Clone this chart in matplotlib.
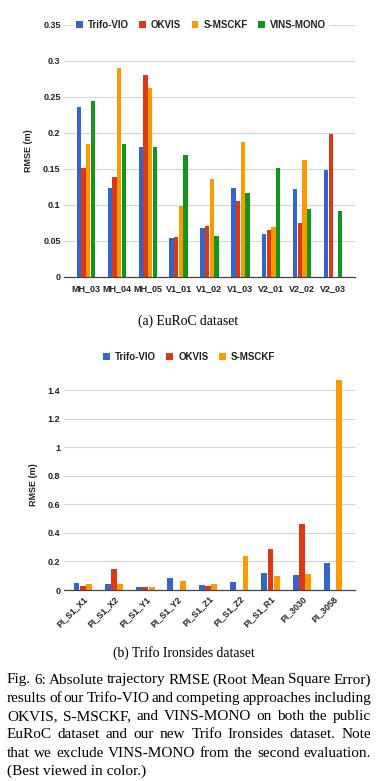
import numpy as np
import matplotlib
matplotlib.use("Agg")
import matplotlib.pyplot as plt
from matplotlib.patches import Patch
from matplotlib.ticker import FuncFormatter

# EuRoC results (RMSE in m)
euroc_seqs = ["MH_03", "MH_04", "MH_05", "V1_01", "V1_02", "V1_03", "V2_01", "V2_02", "V2_03"]
euroc_trifo = [0.236, 0.124, 0.180, 0.054, 0.068, 0.124, 0.060, 0.122, 0.149]
euroc_okvis = [0.151, 0.139, 0.280, 0.056, 0.071, 0.105, 0.065, 0.075, 0.198]
euroc_msckf = [0.185, 0.290, 0.263, 0.099, 0.136, 0.187, 0.069, 0.162, np.nan]
euroc_vins = [0.244, 0.185, 0.181, 0.170, 0.057, 0.116, 0.151, 0.095, 0.091]

# Trifo Ironsides results (RMSE in m)
iron_seqs = ["PI_S1_X1", "PI_S1_X2", "PI_S1_Y1", "PI_S1_Y2", "PI_S1_Z1",
             "PI_S1_Z2", "PI_S1_R1", "PI_3030", "PI_3058"]
iron_trifo = [0.047, 0.042, 0.023, 0.084, 0.035, 0.056, 0.117, 0.107, 0.191]
iron_okvis = [0.028, 0.147, 0.019, np.nan, 0.028, np.nan, 0.285, 0.462, np.nan]
iron_msckf = [0.042, 0.042, 0.023, 0.063, 0.040, 0.238, 0.098, 0.110, 1.475]

method_names = ["Trifo-VIO", "OKVIS", "S-MSCKF", "VINS-MONO"]
colors = ["#3366cc", "#dc3912", "#ff9900", "#109618"]

caption_lines = [
    "Fig. 6: Absolute trajectory RMSE (Root Mean Square Error)",
    "results of our Trifo-VIO and competing approaches including",
    "OKVIS, S-MSCKF, and VINS-MONO on both the public",
    "EuRoC dataset and our new Trifo Ironsides dataset. Note",
    "that we exclude VINS-MONO from the second evaluation.",
    "(Best viewed in color.)",
]

W, H = 383, 781
fig = plt.figure(figsize=(W / 100, H / 100), dpi=100)
sans = ["Liberation Sans", "DejaVu Sans"]
serif = ["Liberation Serif", "DejaVu Serif"]
tick_col = "#222222"


def px_box(left, top, right, bottom):
    return [left / W, 1 - bottom / H, (right - left) / W, (bottom - top) / H]


def style_axes(ax, ymax, yticks, fmt):
    ax.set_ylim(0, ymax)
    ax.set_yticks(yticks)
    ax.yaxis.set_major_formatter(fmt)
    for s in ["top", "right", "left"]:
        ax.spines[s].set_visible(False)
    ax.spines["bottom"].set_color("#444444")
    ax.spines["bottom"].set_linewidth(0.9)
    ax.grid(axis="y", color="#d6d6d6", linewidth=0.8)
    ax.set_axisbelow(True)
    ax.tick_params(axis="both", length=0, labelsize=6.5, colors=tick_col, pad=2.5)
    for lab in ax.get_yticklabels() + ax.get_xticklabels():
        lab.set_fontfamily(sans)
        lab.set_fontweight("bold")
    ax.set_ylabel("RMSE (m)", fontsize=6.5, fontweight="bold", family=sans,
                  color=tick_col, labelpad=7)


def grouped(ax, series, cols, width, step):
    n = len(series)
    x = np.arange(len(series[0]))
    for i, (vals, c) in enumerate(zip(series, cols)):
        off = (i - (n - 1) / 2) * step
        ax.bar(x + off, vals, width, color=c, linewidth=0)
    return x


# (a) EuRoC
ax1 = fig.add_axes(px_box(64, 25, 355, 277))
x1 = grouped(ax1, [euroc_trifo, euroc_okvis, euroc_msckf, euroc_vins], colors, 0.14, 0.15)
ax1.set_xticks(x1)
ax1.set_xticklabels(euroc_seqs)
ax1.set_xlim(-0.71, len(euroc_seqs) - 0.29)
style_axes(ax1, 0.35, np.arange(0, 0.351, 0.05),
           FuncFormatter(lambda v, p: "0" if v == 0 else f"{v:.2f}".rstrip("0")))
ax1.xaxis.set_tick_params(labelsize=6.5, pad=5)

h1 = [Patch(facecolor=c) for c in colors]
leg1 = fig.legend(h1, method_names, loc="center left", bbox_to_anchor=(69 / W, 1 - 25 / H),
                  ncol=4, frameon=True, fancybox=False, edgecolor="white", framealpha=1,
                  handlelength=0.7, handleheight=0.7, handletextpad=0.5, columnspacing=1.1,
                  borderpad=0.2, prop={"family": sans, "weight": "bold", "size": 7})
for t in leg1.get_texts():
    t.set_color(tick_col)

fig.text(188 / W, 1 - 321 / H, "(a) EuRoC dataset", ha="center", va="center",
         family=serif, fontsize=9.8)

# (b) Trifo Ironsides
ax2 = fig.add_axes(px_box(64, 379, 355, 590))
x2 = grouped(ax2, [iron_trifo, iron_okvis, iron_msckf], colors[:3], 0.19, 0.2)
ax2.set_xticks(x2)
ax2.set_xticklabels(iron_seqs, rotation=45, ha="right", rotation_mode="anchor")
ax2.set_xlim(-0.6, len(iron_seqs) - 0.3)
style_axes(ax2, 1.48, np.arange(0, 1.41, 0.2),
           FuncFormatter(lambda v, p: f"{v:.1f}".rstrip("0").rstrip(".") if v else "0"))
ax2.xaxis.set_tick_params(labelsize=6.3, pad=3)

h2 = [Patch(facecolor=c) for c in colors[:3]]
leg2 = fig.legend(h2, method_names[:3], loc="center", bbox_to_anchor=(189 / W, 1 - 357 / H),
                  ncol=3, frameon=False,
                  handlelength=0.7, handleheight=0.7, handletextpad=0.5, columnspacing=1.1,
                  prop={"family": sans, "weight": "bold", "size": 7})
for t in leg2.get_texts():
    t.set_color(tick_col)

fig.text(184 / W, 1 - 653 / H, "(b) Trifo Ironsides dataset", ha="center", va="center",
         family=serif, fontsize=9.8)

# justified caption paragraph
renderer = fig.canvas.get_renderer()
left_px, right_px = 7, 371
y_px = 680
for li, line in enumerate(caption_lines):
    yf = 1 - y_px / H
    if li == len(caption_lines) - 1:
        fig.text(left_px / W, yf, line, ha="left", va="center", family=serif, fontsize=11)
    else:
        words = line.split(" ")
        texts = [fig.text(0, yf, w, ha="left", va="center", family=serif, fontsize=11) for w in words]
        widths = [t.get_window_extent(renderer).width for t in texts]
        gap = (right_px - left_px - sum(widths)) / (len(words) - 1)
        xp = left_px
        for t, wd in zip(texts, widths):
            t.set_x(xp / W)
            xp += wd + gap
    y_px += 18.3

fig.savefig("out.png", dpi=100)
